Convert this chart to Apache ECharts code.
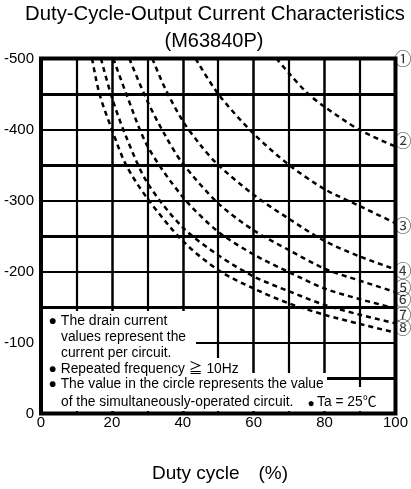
<!DOCTYPE html>
<html><head><meta charset="utf-8">
<script src="https://cdn.jsdelivr.net/npm/echarts@6/dist/echarts.min.js"></script>
<style>html,body{margin:0;padding:0;background:#fff}#c{width:411px;height:489px}</style>
</head><body><div id="c"></div>
<script>
// Duty cycle (%) / output current (mA) pairs, one array per curve
const curve2 = [[66.4,-500],[70,-479],[75,-452],[80,-432],[90,-399],[100,-376]];
const curve3 = [[43.6,-500],[50,-450],[60,-394],[70,-350],[80,-316],[90,-292],[100,-268]];
const curve4 = [[31.4,-500],[35,-458],[40,-412],[45,-378],[50,-350],[60,-308],[70,-274],[80,-243],[90,-221],[100,-203]];
const curve5 = [[24.9,-500],[30,-440],[35,-392],[40,-352],[50,-296],[60,-258],[70,-230],[80,-204],[90,-187],[100,-171]];
const curve6 = [[20.4,-500],[24,-451],[30,-377],[40,-305],[50,-256],[60,-224],[70,-199],[80,-176],[90,-161],[100,-148]];
const curve7 = [[16.9,-500],[20,-445],[24,-390],[30,-325],[40,-262],[50,-223],[60,-193],[70,-172],[80,-153],[90,-139],[100,-127]];
const curve8 = [[14.4,-500],[16.5,-450],[20,-400],[24,-350],[30,-303],[40,-243],[50,-202],[60,-176],[70,-155],[80,-139],[90,-126],[100,-114]];
const curves = [curve2, curve3, curve4, curve5, curve6, curve7, curve8];

// circled curve labels on the right edge and the current level each sits at
const curveLabels = ['①','②','③','④','⑤','⑥','⑦','⑧'];
const labelCurrents = [-500,-385,-265,-201,-178,-160,-140,-121];

const titleLines = ['Duty-Cycle-Output Current Characteristics', '(M63840P)'];
const xName = 'Duty cycle\u3000(%)';
const noteLines = [
  '● The drain current',
  'values represent the',
  'current per circuit.',
  '● Repeated frequency ≧ 10Hz',
  '● The value in the circle represents the value',
  'of the simultaneously-operated circuit.'
];
const tempNote = 'Ta = 25℃';

const FONT = '"Liberation Sans", Arial, "Noto Sans CJK JP", sans-serif';
const chart = echarts.init(document.getElementById('c'), null, {renderer:'canvas'});

const lineSeries = curves.map((d, i) => ({
  type: 'line', data: d, smooth: 0.3, showSymbol: false, symbol: 'none',
  lineStyle: {color: '#000', width: 2.5, type: [5, 4]}, z: 3, silent: true
}));

function txt(text, x, y, size, align) {
  return {type:'text', z: 101, silent: true,
    style: {text: text, x: x, y: y, fill: '#000', font: size + 'px ' + FONT,
      textAlign: align || 'left', align: align || 'left',
      textVerticalAlign: 'middle', verticalAlign: 'middle'}};
}
function box(x, y, w, h) {
  return {type:'rect', z: 100, silent: true, shape: {x:x, y:y, width:w, height:h}, style: {fill:'#fff'}};
}

chart.setOption({
  animation: false,
  backgroundColor: '#fff',
  grid: {left: 41, right: 15, top: 58.5, bottom: 75.5, show: true, borderColor: '#000', borderWidth: 4, backgroundColor: 'transparent'},
  xAxis: {
    type: 'value', min: 0, max: 100, interval: 20,
    axisLine: {show: false}, axisTick: {show: false},
    axisLabel: {fontSize: 15, color: '#000', margin: 2, fontFamily: FONT},
    splitLine: {show: true, lineStyle: {color: '#000', width: 2.5}},
    minorTick: {show: false, splitNumber: 2},
    minorSplitLine: {show: true, lineStyle: {color: '#000', width: 2.2}}
  },
  yAxis: {
    type: 'value', inverse: true, min: -500, max: 0, interval: 100,
    axisLine: {show: false}, axisTick: {show: false},
    axisLabel: {fontSize: 15, color: '#000', margin: 7, fontFamily: FONT},
    splitLine: {show: true, lineStyle: {color: '#000', width: 2}},
    minorTick: {show: false, splitNumber: 2},
    minorSplitLine: {show: true, lineStyle: {color: '#000', width: 3}}
  },
  series: lineSeries.concat([{
    type: 'scatter', silent: true, symbolSize: 0, clip: false, z: 5,
    data: labelCurrents.map(v => [100, v]),
    label: {show: true, position: 'right', distance: -1,
      formatter: p => curveLabels[p.dataIndex],
      fontSize: 17, color: '#000', fontFamily: '"Noto Sans CJK JP", sans-serif'}
  }]),
  graphic: [
    txt(titleLines[0], 215, 14.5, 20.3, 'center'),
    txt(titleLines[1], 214, 41, 20, 'center'),
    txt(xName, 220, 473.5, 19, 'center'),
    box(43, 311, 153, 47),
    box(43, 358, 207, 15),
    box(43, 373, 284, 14),
    box(43, 387, 349, 24),
    txt(noteLines[0], 48.5, 321, 14),
    txt(noteLines[1], 61, 337, 13.8),
    txt(noteLines[2], 61, 353, 13.8),
    txt(noteLines[3], 48.5, 369, 13.8),
    txt(noteLines[4], 48.5, 384, 13.8),
    txt(noteLines[5], 61, 402, 13.8),
    txt('●', 307.5, 404, 12),
    txt(tempNote, 317, 402, 13.8)
  ]
});
</script></body></html>
